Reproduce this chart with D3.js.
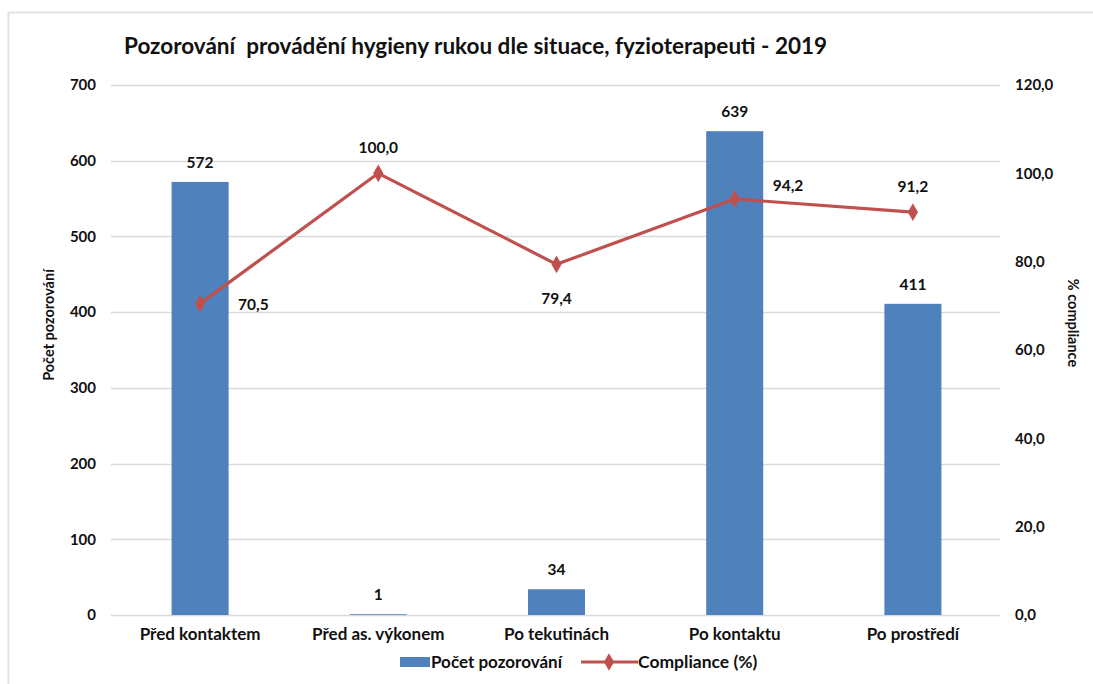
<!DOCTYPE html>
<html>
<head>
<meta charset="utf-8">
<script src="https://cdn.jsdelivr.net/npm/d3@7.9.0/dist/d3.min.js"></script>
<style>
  body { margin: 0; background: #fff; }
  svg { display: block; font-family: Lato, "Open Sans", sans-serif; font-weight: bold; }
</style>
</head>
<body>
<svg id="chart" width="1093" height="684"></svg>
<script>
const categories = ["Před kontaktem", "Před as. výkonem", "Po tekutinách", "Po kontaktu", "Po prostředí"];
const counts = [572, 1, 34, 639, 411];
const compliance = [70.5, 100.0, 79.4, 94.2, 91.2];
const leftTicks = [0, 100, 200, 300, 400, 500, 600, 700];
const rightTicks = [0, 20, 40, 60, 80, 100, 120];
// where each compliance label sits relative to its point
const complianceLabelPos = ["right", "top", "bottom", "topright", "top"];

const svg = d3.select("#chart");
const blue = "#4f81bd", red = "#c0504d", grid = "#d9d9d9";
const fmt = (v) => v.toFixed(1).replace(".", ",");

// frame
svg.append("path")
  .attr("d", "M8.5,684 V12.5 H1093")
  .attr("fill", "none").attr("stroke", "#e3e3e3").attr("stroke-width", 2);

const x = d3.scaleBand().domain(categories).range([111, 1002]).paddingInner(0.68).paddingOuter(0.34);
const xc = (c) => x(c) + x.bandwidth() / 2;
const yL = d3.scaleLinear().domain([0, 700]).range([615, 85]);
const yR = d3.scaleLinear().domain([0, 120]).range([615, 85]);

// gridlines
svg.append("g").selectAll("line").data(leftTicks).join("line")
  .attr("x1", 111).attr("x2", 1000)
  .attr("y1", (d) => Math.round(yL(d)) + 0.5).attr("y2", (d) => Math.round(yL(d)) + 0.5)
  .attr("stroke", grid).attr("stroke-width", 1.5);

// left axis
const gl = svg.append("g").attr("transform", "translate(96,0)")
  .call(d3.axisLeft(yL).tickValues(leftTicks).tickSize(0).tickPadding(0));
gl.select(".domain").remove();
gl.selectAll("text").attr("font-size", 15).attr("font-family", "Lato, sans-serif").attr("fill", "#111");

// right axis
const gr = svg.append("g").attr("transform", "translate(1015,0)")
  .call(d3.axisRight(yR).tickValues(rightTicks).tickFormat(fmt).tickSize(0).tickPadding(0));
gr.select(".domain").remove();
gr.selectAll("text").attr("font-size", 15).attr("font-family", "Lato, sans-serif").attr("fill", "#111");

// bottom axis labels
const gb = svg.append("g").attr("transform", "translate(0,626)")
  .call(d3.axisBottom(x).tickSize(0).tickPadding(0));
gb.select(".domain").remove();
gb.selectAll("text").attr("font-size", 17).attr("font-family", "Lato, sans-serif").attr("fill", "#111").attr("dy", "0.85em");

// bars
svg.append("g").selectAll("rect").data(counts).join("rect")
  .attr("x", (d, i) => x(categories[i]))
  .attr("width", x.bandwidth())
  .attr("y", (d) => yL(d))
  .attr("height", (d) => yL(0) - yL(d))
  .attr("fill", blue);

svg.append("g").selectAll("text").data(counts).join("text")
  .attr("x", (d, i) => xc(categories[i]))
  .attr("y", (d) => yL(d) - 14)
  .attr("text-anchor", "middle")
  .attr("font-size", 15.5).attr("fill", "#111")
  .text((d) => d);

// compliance line
const line = d3.line().x((d, i) => xc(categories[i])).y((d) => yR(d));
svg.append("path").datum(compliance)
  .attr("d", line).attr("fill", "none")
  .attr("stroke", red).attr("stroke-width", 3.2).attr("stroke-linejoin", "round");

const diamond = d3.symbol().type(d3.symbolDiamond).size(90);
svg.append("g").selectAll("path").data(compliance).join("path")
  .attr("transform", (d, i) => `translate(${xc(categories[i])},${yR(d)})`)
  .attr("d", diamond).attr("fill", red);

svg.append("g").selectAll("text").data(compliance).join("text")
  .attr("x", (d, i) => {
    const cx = xc(categories[i]);
    return complianceLabelPos[i].includes("right") ? cx + 38 : cx;
  })
  .attr("y", (d, i) => {
    const cy = yR(d);
    const p = complianceLabelPos[i];
    if (p === "top") return cy - 20;
    if (p === "topright") return cy - 8;
    if (p === "bottom") return cy + 40;
    return cy + 6;
  })
  .attr("text-anchor", (d, i) => complianceLabelPos[i].includes("right") ? "start" : "middle")
  .attr("font-size", 15.5).attr("fill", "#111")
  .text(fmt);

// title
svg.append("text")
  .attr("x", 124).attr("y", 54)
  .attr("font-size", 22.5).attr("fill", "#111")
  .attr("xml:space", "preserve")
  .text("Pozorování  provádění hygieny rukou dle situace, fyzioterapeuti - 2019");

// axis titles
svg.append("text")
  .attr("transform", "translate(54,325) rotate(-90)")
  .attr("text-anchor", "middle").attr("font-size", 14.5).attr("fill", "#111")
  .text("Počet pozorování");
svg.append("text")
  .attr("transform", "translate(1068,323) rotate(90)")
  .attr("text-anchor", "middle").attr("font-size", 14.5).attr("fill", "#111")
  .text("% compliance");

// legend
const lg = svg.append("g").attr("transform", "translate(0,662)");
lg.append("rect").attr("x", 400).attr("y", -5).attr("width", 30).attr("height", 10).attr("fill", blue);
lg.append("text").attr("x", 431).attr("y", 6).attr("font-size", 17).attr("fill", "#111").text("Počet pozorování");
lg.append("line").attr("x1", 581).attr("x2", 638).attr("y1", 0).attr("y2", 0)
  .attr("stroke", red).attr("stroke-width", 3);
lg.append("path").attr("transform", "translate(609,0)").attr("d", diamond).attr("fill", red);
lg.append("text").attr("x", 638).attr("y", 6).attr("font-size", 17.5).attr("fill", "#111")
  .text("Compliance (%)");
</script>
</body>
</html>
